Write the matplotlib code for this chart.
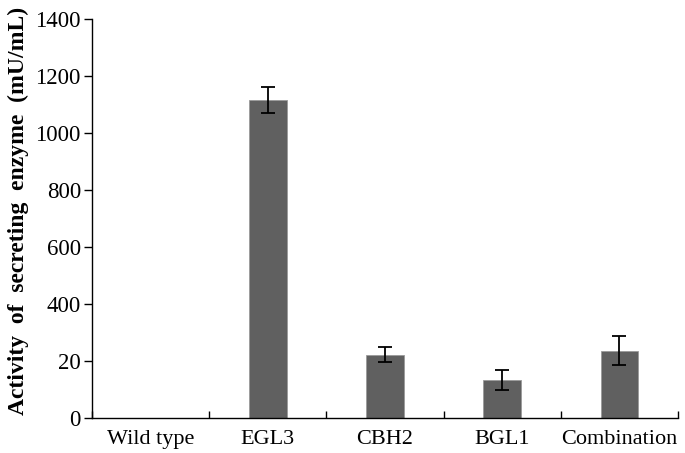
import matplotlib
matplotlib.use("Agg")
import matplotlib.pyplot as plt
import numpy as np

categories = ["Wild type", "EGL3", "CBH2", "BGL1", "Combination"]
activity = [0, 1115, 222, 132, 236]
errors = [0, 46, 26, 35, 50]
ytick_values = [0, 200, 400, 600, 800, 1000, 1200, 1400]
ytick_labels = ["0", "20", "400", "600", "800", "1000", "1200", "1400"]

plt.rcParams["font.family"] = ["Liberation Serif", "DejaVu Serif"]

fig = plt.figure(figsize=(6.85, 4.53), dpi=100)
ax = fig.add_axes([0.1343, 0.0773, 0.8555, 0.8808])

x = np.arange(len(categories))
err = [e if e > 0 else np.nan for e in errors]
ax.bar(x, activity, width=0.32, color="#606060", edgecolor="#9a9a9a", linewidth=0.6, zorder=2)
ax.errorbar(x, activity, yerr=err, fmt="none", ecolor="black", elinewidth=1.3,
            capsize=5, capthick=1.3, zorder=3)

ax.set_xlim(-0.5, len(categories) - 0.5)
ax.set_ylim(0, 1400)
ax.set_yticks(ytick_values)
ax.set_yticklabels(ytick_labels, fontsize=16.5)
ax.set_xticks(x)
ax.set_xticklabels(categories, fontsize=16)

# category boundary ticks pointing inward on the x axis
ax.set_xticks(np.arange(len(categories) + 1) - 0.5, minor=True)
ax.tick_params(axis="x", which="major", length=0, pad=9)
ax.tick_params(axis="x", which="minor", direction="in", length=5, width=1)
ax.tick_params(axis="y", direction="out", length=6, width=1, pad=2)

ax.spines["top"].set_visible(False)
ax.spines["right"].set_visible(False)
ax.spines["left"].set_linewidth(1)
ax.spines["bottom"].set_linewidth(1)

ax.set_ylabel("Activity  of  secreting  enzyme  (mU/mL)", fontsize=17,
              fontweight="bold")
ax.yaxis.set_label_coords(-0.108, 0.52)

fig.savefig("out.png", dpi=100)
